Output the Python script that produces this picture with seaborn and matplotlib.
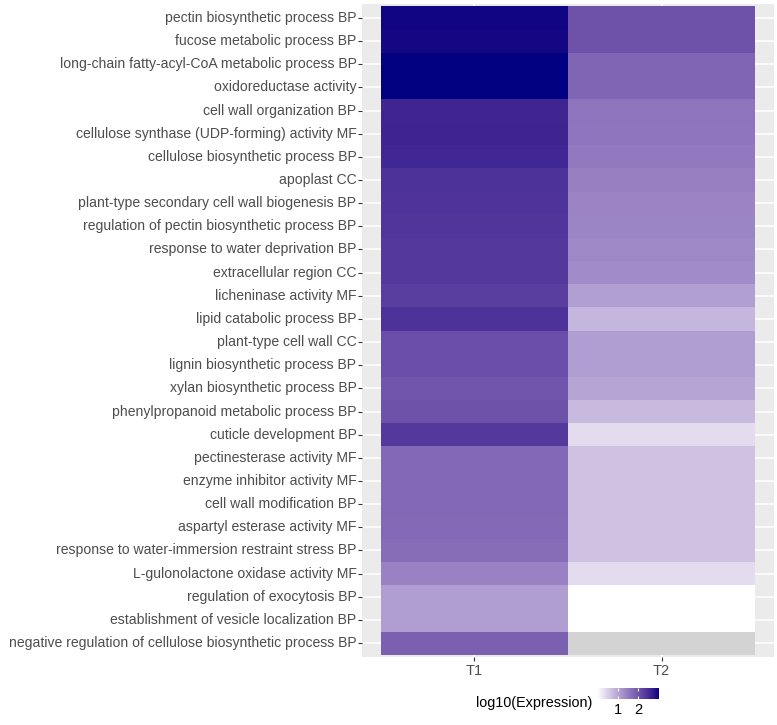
import numpy as np
import pandas as pd
import matplotlib
matplotlib.use('Agg')
import matplotlib.pyplot as plt
from matplotlib.colors import ListedColormap
import seaborn as sns

# ============================================================
# Data (log10 expression)
# ============================================================
terms = [
    'pectin biosynthetic process BP',
    'fucose metabolic process BP',
    'long-chain fatty-acyl-CoA metabolic process BP',
    'oxidoreductase activity',
    'cell wall organization BP',
    'cellulose synthase (UDP-forming) activity MF',
    'cellulose biosynthetic process BP',
    'apoplast CC',
    'plant-type secondary cell wall biogenesis BP',
    'regulation of pectin biosynthetic process BP',
    'response to water deprivation BP',
    'extracellular region CC',
    'licheninase activity MF',
    'lipid catabolic process BP',
    'plant-type cell wall CC',
    'lignin biosynthetic process BP',
    'xylan biosynthetic process BP',
    'phenylpropanoid metabolic process BP',
    'cuticle development BP',
    'pectinesterase activity MF',
    'enzyme inhibitor activity MF',
    'cell wall modification BP',
    'aspartyl esterase activity MF',
    'response to water-immersion restraint stress BP',
    'L-gulonolactone oxidase activity MF',
    'regulation of exocytosis BP',
    'establishment of vesicle localization BP',
    'negative regulation of cellulose biosynthetic process BP',
]
samples = ['T1', 'T2']
t1_values = [2.94, 2.91, 3.0, 3.0, 2.58, 2.6, 2.55, 2.43, 2.4, 2.37, 2.34, 2.34, 2.28, 2.43,
             2.07, 2.07, 1.98, 2.01, 2.34, 1.74, 1.74, 1.74, 1.73, 1.68, 1.44, 1.11, 1.11, 1.83]
t2_values = [2.01, 2.01, 1.77, 1.77, 1.59, 1.58, 1.53, 1.47, 1.41, 1.39, 1.35, 1.32, 1.08, 0.81,
             1.11, 1.11, 1.02, 0.78, 0.39, 0.69, 0.69, 0.69, 0.69, 0.69, 0.39, 0.0, 0.0, np.nan]
cbar_ticks = [1, 2]

df = pd.DataFrame({'T1': t1_values, 'T2': t2_values}, index=terms)


# ============================================================
# white -> navy gradient interpolated in Lab (like ggplot)
# ============================================================
def lab_to_rgb(L, a, b):
    fy = (L + 16) / 116
    fx = fy + a / 500
    fz = fy - b / 200
    def finv(f):
        return np.where(f ** 3 > 0.008856, f ** 3, (f - 16 / 116) / 7.787)
    X = finv(fx) * 0.95047
    Y = finv(fy)
    Z = finv(fz) * 1.08883
    r = 3.2406 * X - 1.5372 * Y - 0.4986 * Z
    g = -0.9689 * X + 1.8758 * Y + 0.0415 * Z
    bb = 0.0557 * X - 0.2040 * Y + 1.0570 * Z
    lin = np.clip(np.stack([r, g, bb], axis=-1), 0, 1)
    return np.where(lin > 0.0031308, 1.055 * lin ** (1 / 2.4) - 0.055, 12.92 * lin)


t = np.linspace(0, 1, 256)
white_lab = np.array([100.0, 0.0, 0.0])
navy_lab = np.array([12.98, 47.5, -64.8])
labs = white_lab[None, :] * (1 - t[:, None]) + navy_lab[None, :] * t[:, None]
cmap = ListedColormap(lab_to_rgb(labs[:, 0], labs[:, 1], labs[:, 2]))

# ============================================================
# Figure
# ============================================================
plt.rcParams['font.family'] = ['Liberation Sans', 'DejaVu Sans']
fig = plt.figure(figsize=(7.77, 7.25), dpi=100)
ax = fig.add_axes([362 / 777, 1 - 657 / 725, 412 / 777, 653 / 725])
cax = fig.add_axes([597 / 777, 1 - 699 / 725, 62 / 777, 11 / 725])

vmin = np.nanmin(df.values)
vmax = np.nanmax(df.values)
sns.heatmap(df, cmap=cmap, vmin=vmin, vmax=vmax, ax=ax, cbar_ax=cax,
            cbar_kws={'orientation': 'horizontal', 'ticks': cbar_ticks})

# NA cell in light grey
na_df = df.isna().astype(float).where(df.isna())
sns.heatmap(na_df, cmap=ListedColormap(['#D3D3D3']), cbar=False, ax=ax)

ax.set_facecolor('#EBEBEB')
ax.set_xlim(-0.1, len(samples) + 0.1)
ax.set_ylim(len(terms) + 0.1, -0.1)
ax.set_axisbelow(True)
ax.grid(True, color='white', linewidth=1.1)
for s in ax.spines.values():
    s.set_visible(False)
ax.set_xlabel('')
ax.set_ylabel('')
ax.set_yticklabels(terms, rotation=0)
ax.set_xticklabels(samples, rotation=0)
ax.tick_params(axis='both', length=3, width=0.8, color='#333333',
               labelcolor='#4D4D4D', labelsize=10.1, pad=1)
ax.tick_params(axis='x', labelsize=10.5, pad=2)

# colorbar styling
cax.tick_params(axis='x', direction='in', length=2.5, color='white', width=0.8,
                labelsize=10.5, labelcolor='black', pad=3, top=True, bottom=True)
for s in cax.spines.values():
    s.set_visible(False)
cax.set_xlabel('')
fig.text(592 / 777, 1 - 703 / 725, 'log10(Expression)', ha='right', va='center',
         fontsize=10.4, color='black')

plt.savefig('out.png', dpi=100)
plt.close()
